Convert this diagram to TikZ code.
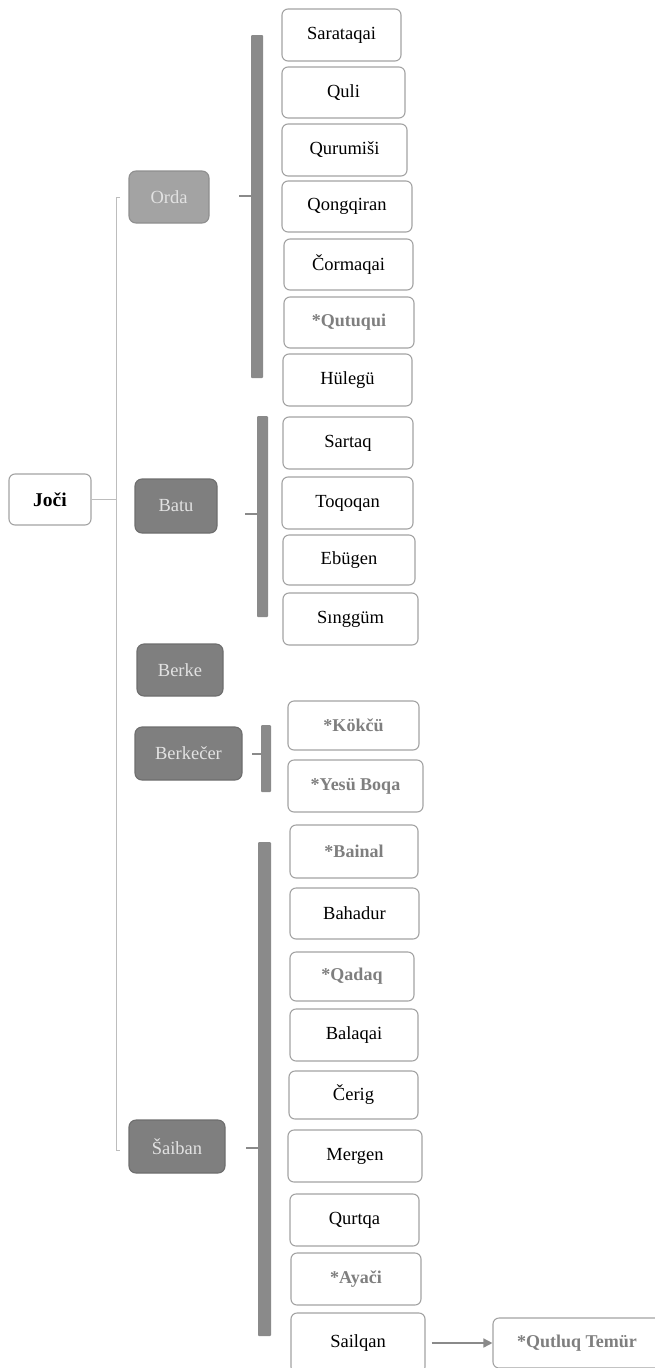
\documentclass[tikz,border=0pt]{standalone}
\usepackage{fontspec}
\setmainfont{Liberation Serif}
\usetikzlibrary{arrows.meta}
\definecolor{boxline}{HTML}{A3A3A3}
\definecolor{startext}{HTML}{7F7F7F}
\definecolor{parentfill}{HTML}{7F7F7F}
\definecolor{parentline}{HTML}{6E6E6E}
\definecolor{ordafill}{HTML}{A3A3A3}
\definecolor{ordaline}{HTML}{8F8F8F}
\definecolor{parenttext}{HTML}{E2E2E2}
\definecolor{barfill}{HTML}{8A8A8A}
\definecolor{trunkcol}{HTML}{BDBDBD}
\definecolor{arrowcol}{HTML}{8A8A8A}
\begin{document}
\begin{tikzpicture}[x=1pt,y=-1pt,
  wh/.style 2 args={minimum width=#1pt, minimum height=#2pt},
  kid/.style={draw=boxline, line width=1.1pt, rounded corners=6pt, fill=white, inner sep=0pt,
    font=\fontsize{18.5}{20}\selectfont, text=black},
  star/.style={kid, text=startext, font=\fontsize{18}{20}\selectfont\bfseries},
  parent/.style={draw=parentline, fill=parentfill, line width=1.1pt, rounded corners=7pt, inner sep=0pt,
    text=parenttext, font=\fontsize{18.5}{20}\selectfont},
  rootbox/.style={kid, font=\fontsize{19.5}{21}\selectfont\bfseries},
  bar/.style={fill=barfill, draw=none, inner sep=0pt, rounded corners=1pt},
  tick/.style={draw=barfill, line width=1.4pt},
  trunk/.style={draw=trunkcol, line width=1pt},
  link/.style={draw=arrowcol, line width=1.6pt, -{Triangle[length=9pt,width=9pt]}},
]
\useasboundingbox (0,0) rectangle (654,1368);

% root and parents
\node[rootbox, wh={82}{51}] (joci) at (50,499.5) {Joči};
\node[parent, wh={80}{52}, fill=ordafill, draw=ordaline] (orda) at (169,197) {Orda};
\node[parent, wh={82}{54}] (batu) at (176,506) {Batu};
\node[parent, wh={86}{52}] (berke) at (180,670) {Berke};
\node[parent, wh={107}{53}] (berkecer) at (188.5,753.5) {Berkečer};
\node[parent, wh={96}{53}] (saiban) at (177,1146.5) {Šaiban};

% trunk
\coordinate (tJ) at (116,501);
\coordinate (tTop) at (120,197);
\coordinate (tBot) at (120,1150);
\draw[trunk] (joci.east) -- (joci.east -| tJ);
\draw[trunk] (tTop) -- ++(-4,0) |- (tBot);

% Orda group
\node[bar, wh={12}{343}] (obar) at (257,206.5) {};
\coordinate (oT) at (239,196);
\draw[tick] (oT) -- (oT -| obar.west);
\node[kid, wh={119}{52}] (sarataqai) at (341.5,35) {Sarataqai};
\node[kid, wh={123}{51}] (quli) at (343.5,92.5) {Quli};
\node[kid, wh={125}{52}] (qurumisi) at (344.5,150) {Qurumiši};
\node[kid, wh={130}{51}] (qongqiran) at (347,206.5) {Qongqiran};
\node[kid, wh={129}{51}] (cormaqai) at (348.5,264.5) {Čormaqai};
\node[star, wh={130}{51}] (qutuqui) at (349,322.5) {*Qutuqui};
\node[kid, wh={129}{52}] (hulegu) at (347.5,380) {Hülegü};

% Batu group
\node[bar, wh={11}{201}] (bbar) at (262.5,516.5) {};
\coordinate (bT) at (245,514);
\draw[tick] (bT) -- (bT -| bbar.west);
\node[kid, wh={130}{52}] (sartaq) at (348,443) {Sartaq};
\node[kid, wh={131}{52}] (toqoqan) at (347.5,503) {Toqoqan};
\node[kid, wh={132}{50}] (ebugen) at (349,560) {Ebügen};
\node[kid, wh={135}{52}] (singgum) at (350.5,619) {Sınggüm};

% Berkecer group
\node[bar, wh={10}{67}] (kbar) at (266,758.5) {};
\coordinate (kT) at (252,754);
\draw[tick] (kT) -- (kT -| kbar.west);
\node[star, wh={131}{49}] (kokcu) at (353.5,725.5) {*Kökčü};
\node[star, wh={135}{52}] (yesu) at (355.5,786) {*Yesü Boqa};

% Saiban group
\node[bar, wh={13}{494}] (sbar) at (264.5,1089) {};
\coordinate (sT) at (246,1148);
\draw[tick] (sT) -- (sT -| sbar.west);
\node[star, wh={128}{53}] (bainal) at (354,851.5) {*Bainal};
\node[kid, wh={129}{51}] (bahadur) at (354.5,913.5) {Bahadur};
\node[star, wh={124}{49}] (qadaq) at (352,976.5) {*Qadaq};
\node[kid, wh={128}{52}] (balaqai) at (354,1035) {Balaqai};
\node[kid, wh={129}{48}] (cerig) at (353.5,1095) {Čerig};
\node[kid, wh={134}{52}] (mergen) at (355,1156) {Mergen};
\node[kid, wh={129}{52}] (qurtqa) at (354.5,1220) {Qurtqa};
\node[star, wh={130}{52}] (ayaci) at (356,1279) {*Ayači};
\node[kid, wh={134}{60}] (sailqan) at (358,1343) {Sailqan};
\node[star, wh={184}{50}] (qutluq) at (585,1343) {*Qutluq Temür\hspace*{16pt}};
\draw[link, shorten <=6pt] (sailqan.east) -- (qutluq.west);
\end{tikzpicture}
\end{document}
